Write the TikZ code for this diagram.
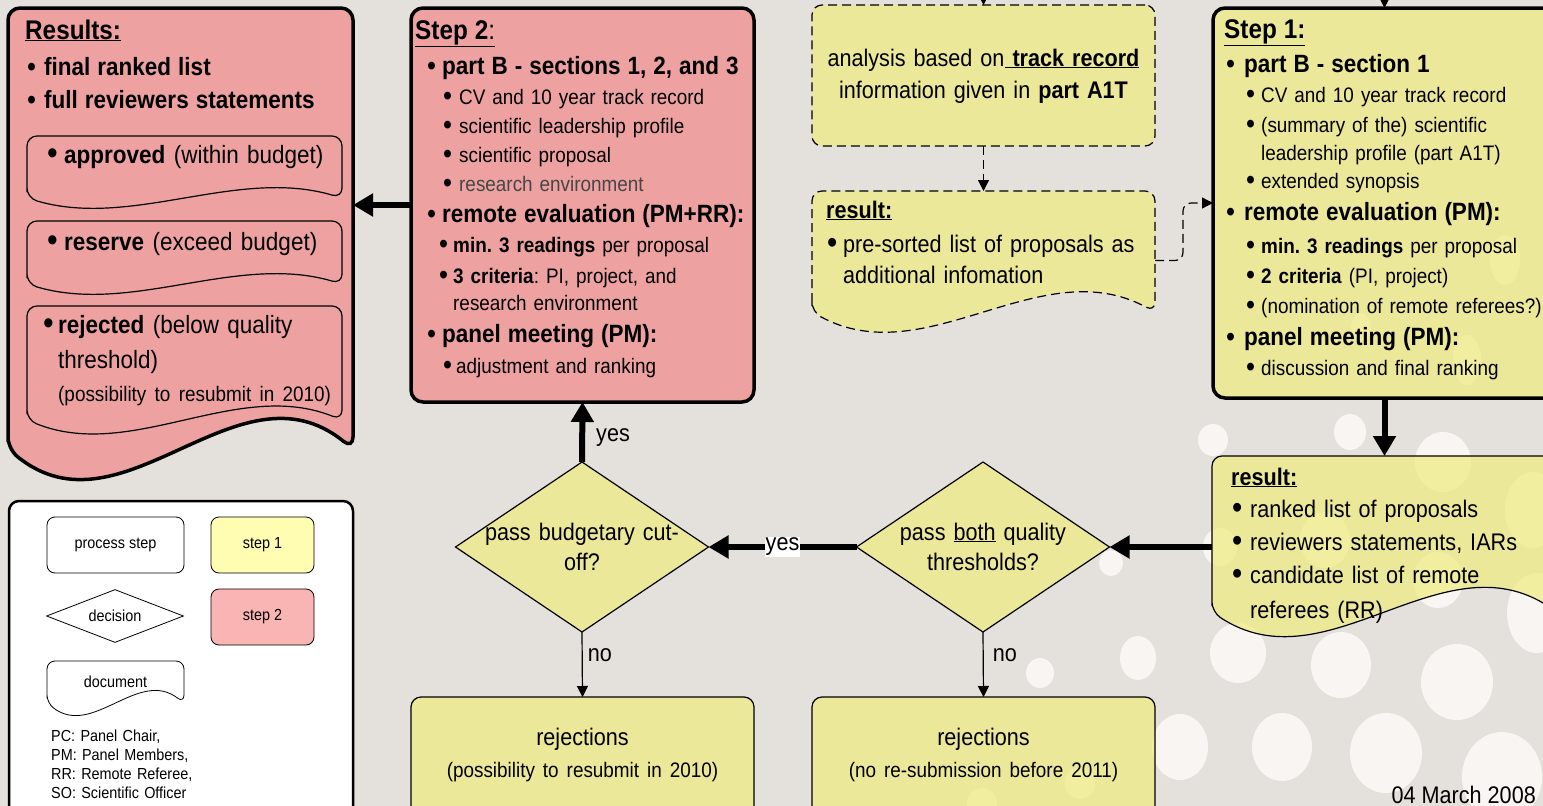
\documentclass[tikz,border=0pt]{standalone}
\usepackage{fontspec}
\usepackage{graphicx}
\setmainfont{Liberation Sans}[FakeStretch=0.9]
\usetikzlibrary{arrows.meta,positioning,calc,shapes.geometric}
\definecolor{bgc}{RGB}{228,224,220}
\definecolor{pinkc}{RGB}{238,161,161}
\definecolor{yelc}{RGB}{240,236,131}
\definecolor{lyelc}{RGB}{255,253,178}
\definecolor{lpinkc}{RGB}{249,180,180}
\definecolor{dotc}{RGB}{248,245,243}
\definecolor{greytxt}{RGB}{70,70,70}
\setlength{\parindent}{0pt}
\frenchspacing
\newcommand{\Ln}[2]{\par\baselineskip=#1pt\relax{#2}\par}
\newcommand{\dotb}[1]{\makebox[#1pt][l]{\raisebox{-0.07em}{\scalebox{1.35}{\textbullet}}}}
\newcommand{\bigb}{\fontsize{25}{30}\selectfont\bfseries}
\newcommand{\hdr}[1]{{\fontsize{27}{30}\selectfont\bfseries\underline{#1}}}
% document outline: straight top and sides, wavy bottom
\newcommand{\docshape}[3]{%
  \path[#3] (#1.south west) -- (#1.north west) -- (#1.north east) -- (#1.south east)
    .. controls ($(#1.south east)!0.333!(#1.south west)+(0,-#2)$)
    and ($(#1.south west)!0.333!(#1.south east)+(0,#2)$) .. cycle;}

\begin{document}
\begin{tikzpicture}[x=1pt,y=-1pt,
  box/.style={anchor=north west,inner sep=0pt,outer sep=0pt},
  stepbox/.style={box,draw,line width=3.5pt,rounded corners=12pt},
  thinbox/.style={box,draw,line width=1.2pt,rounded corners=10pt},
  yfill/.style={fill=yelc,fill opacity=0.75},
  txt/.style={anchor=base west,inner sep=0pt,text width=#1,align=left,font=\fontsize{21}{25}\selectfont},
  txt/.default=320pt,
  ctxt/.style={anchor=base,inner sep=0pt,text width=#1,align=center,font=\fontsize{24}{28}\selectfont},
  ctxt/.default=330pt,
  lbl/.style={font=\fontsize{24}{28}\selectfont,inner sep=1pt},
  dia/.style={diamond,draw,line width=1.2pt,yfill,inner sep=0pt,outer sep=0pt,minimum width=253pt,minimum height=170pt},
  bigarrow/.style={-{Triangle[length=20pt,width=22pt]},line width=6pt},
  thinarrow/.style={-{Triangle[length=11pt,width=11pt]},line width=1.2pt},
  dashline/.style={dash pattern=on 9pt off 5pt},
  lbox/.style={box,draw,line width=0.8pt,rounded corners=8pt,font=\fontsize{16}{19}\selectfont}]
\fill[bgc] (0,0) rectangle (1543,806);
\useasboundingbox (0,0) rectangle (1543,806);
% dots in the corner
\foreach \cx/\cy/\rx/\ry in {1213/440/15/16, 1350/432/16/18, 1443/462/28/30, 1533/510/28/38,
    1325/540/25/28, 1438/580/25/28, 1220/547/17/19, 1537/613/30/40, 1238/653/28/30,
    1341/665/30/33, 1457/682/36/38, 1138/658/18/22, 1040/673/14/15, 1111/563/12/13,
    1180/747/28/33, 1282/747/30/34, 1386/753/36/40, 1502/777/40/45, 1080/783/15/16,
    982/803/15/15, 1505/260/15/25, 1361/327/10/14, 1467/360/14/25}
  \fill[dotc] (\cx,\cy) ellipse [x radius=\rx, y radius=\ry];
%
% results (step 2 output)
\node (results) [box,minimum width=345pt,minimum height=441pt] at (8,8) {};
\docshape{results}{93}{draw,line width=3.5pt,fill=pinkc,rounded corners=12pt}
\node (appr) [box,minimum width=315pt,minimum height=62pt] at (27,136) {};
\docshape{appr}{31}{draw,line width=1.2pt,rounded corners=10pt}
\node (resv) [box,minimum width=315pt,minimum height=63pt] at (27,221) {};
\docshape{resv}{31}{draw,line width=1.2pt,rounded corners=10pt}
\node (rejc) [box,minimum width=315pt,minimum height=114pt] at (27,306) {};
\docshape{rejc}{42}{draw,line width=1.2pt,rounded corners=10pt}
\node (resT) [txt] at ([shift={(17,31)}]results.north west) {\hdr{Results:}
  \Ln{36}{\hspace*{2pt}\dotb{17}\bigb final ranked list}
  \Ln{33}{\hspace*{2pt}\dotb{17}\bigb full reviewers statements}};
\node (apprT) [txt,font=\fontsize{25}{30}\selectfont] at ([shift={(20,27)}]appr.north west) {\dotb{17}\textbf{approved} (within budget)};
\node (resvT) [txt,font=\fontsize{25}{30}\selectfont] at ([shift={(20,29)}]resv.north west) {\dotb{17}\textbf{reserve} (exceed budget)};
\node (rejcT) [txt=300pt,font=\fontsize{25}{30}\selectfont] at ([shift={(16,27)}]rejc.north west) {\dotb{15}\textbf{rejected} (below quality
  \Ln{35}{\hspace*{15pt}threshold)}
  \Ln{33}{\hspace*{15pt}\fontsize{21}{25}\selectfont(possibility to resubmit in 2010)}};
%
% step 2
\node (step2) [stepbox,fill=pinkc,minimum width=343pt,minimum height=394pt] at (411,8) {};
\node (st2T) [txt=340pt] at ([shift={(4,31)}]step2.north west) {{\fontsize{27}{30}\selectfont\underline{\textbf{Step 2}:}}
  \Ln{35}{\hspace*{12pt}\dotb{15}\bigb part B - sections 1, 2, and 3}
  \Ln{30}{\hspace*{28pt}\dotb{16}CV and 10 year track record}
  \Ln{29}{\hspace*{28pt}\dotb{16}scientific leadership profile}
  \Ln{29}{\hspace*{28pt}\dotb{16}scientific proposal}
  \Ln{29}{\hspace*{28pt}\dotb{16}\textcolor{greytxt}{research environment}}
  \Ln{31}{\hspace*{12pt}\dotb{15}\bigb remote evaluation (PM+RR):}
  \Ln{30}{\hspace*{24pt}\dotb{14}\textbf{min. 3 readings} per proposal}
  \Ln{31}{\hspace*{24pt}\dotb{14}\textbf{3 criteria}: PI, project, and}
  \Ln{28}{\hspace*{38pt}research environment}
  \Ln{31}{\hspace*{12pt}\dotb{15}\bigb panel meeting (PM):}
  \Ln{31}{\hspace*{28pt}\dotb{13}adjustment and ranking}};
%
% step 1
\node (step1) [stepbox,yfill,minimum width=343pt,minimum height=390pt] at (1213,8) {};
\node (st1T) [txt=330pt] at ([shift={(11,30)}]step1.north west) {\hdr{Step 1:}
  \Ln{34}{\hspace*{2pt}\dotb{18}\bigb part B - section 1}
  \Ln{30}{\hspace*{22pt}\dotb{15}CV and 10 year track record}
  \Ln{30}{\hspace*{22pt}\dotb{15}(summary of the) scientific}
  \Ln{28}{\hspace*{37pt}leadership profile (part A1T)}
  \Ln{28}{\hspace*{22pt}\dotb{15}extended synopsis}
  \Ln{32}{\hspace*{2pt}\dotb{18}\bigb remote evaluation (PM):}
  \Ln{33}{\hspace*{22pt}\dotb{15}\textbf{min. 3 readings} per proposal}
  \Ln{30}{\hspace*{22pt}\dotb{15}\textbf{2 criteria} (PI, project)}
  \Ln{30}{\hspace*{22pt}\dotb{15}(nomination of remote referees?)}
  \Ln{32}{\hspace*{2pt}\dotb{18}\bigb panel meeting (PM):}
  \Ln{30}{\hspace*{22pt}\dotb{15}discussion and final ranking}};
%
% track record pre-sorting
\node (analysis) [thinbox,dashline,yfill,minimum width=343pt,minimum height=141pt] at (812,5) {};
\node (anT) [ctxt] at ([shift={(0,61)}]analysis.north) {analysis based on\underline{\textbf{ track record}}
  \Ln{32}{information given in \textbf{part A1T}}};
\node (presort) [box,minimum width=343pt,minimum height=121pt] at (812,191) {};
\docshape{presort}{62}{draw,line width=1.2pt,dashline,yfill,rounded corners=10pt}
\node (psT) [txt=330pt,font=\fontsize{24}{28}\selectfont] at ([shift={(14,27)}]presort.north west) {\textbf{\underline{result:}}
  \Ln{34}{\hspace*{1pt}\dotb{16}pre-sorted list of proposals as}
  \Ln{31}{\hspace*{17pt}additional infomation}};
%
% step 1 result
\node (result) [box,minimum width=345pt,minimum height=156pt] at (1212,456) {};
\docshape{result}{76}{draw,line width=1.2pt,yfill,rounded corners=10pt}
\node (resultT) [txt=330pt,font=\fontsize{24}{28}\selectfont] at ([shift={(19,29)}]result.north west) {\textbf{\underline{result:}}
  \Ln{32}{\hspace*{1pt}\dotb{18}ranked list of proposals}
  \Ln{33}{\hspace*{1pt}\dotb{18}reviewers statements, IARs}
  \Ln{33}{\hspace*{1pt}\dotb{18}candidate list of remote}
  \Ln{35}{\hspace*{19pt}referees (RR)}};
%
% decisions
\node (dia1) [dia] at (582,547) {};
\node (dia1T) [ctxt=260pt] at ([shift={(0,-7)}]dia1.center) {pass budgetary cut-\Ln{30}{off?}};
\node (dia2) [dia] at (983,547) {};
\node (dia2T) [ctxt=260pt] at ([shift={(0,-7)}]dia2.center) {pass \underline{both} quality\Ln{30}{thresholds?}};
\node (rej1) [thinbox,yfill,minimum width=343pt,minimum height=130pt] at (411,697) {};
\node (rej1T) [ctxt] at ([shift={(0,48)}]rej1.north) {rejections
  \Ln{32}{\fontsize{21}{25}\selectfont(possibility to resubmit in 2010)}};
\node (rej2) [thinbox,yfill,minimum width=343pt,minimum height=130pt] at (812,697) {};
\node (rej2T) [ctxt] at ([shift={(0,48)}]rej2.north) {rejections
  \Ln{32}{\fontsize{21}{25}\selectfont(no re-submission before 2011)}};
%
% legend
\node (legend) [box,draw,line width=2.5pt,rounded corners=10pt,fill=white,minimum width=344pt,minimum height=330pt] at (9,501) {};
\node (lproc) [lbox,fill=white,minimum width=137pt,minimum height=56pt] at (47,517) {process step};
\node (lstep1) [lbox,fill=lyelc,minimum width=103pt,minimum height=56pt] at (211,517) {step 1};
\node (ldec) [diamond,aspect=2.6,draw,line width=0.8pt,inner sep=0pt,minimum width=137pt,minimum height=53pt,font=\fontsize{16}{19}\selectfont] at (115,616) {decision};
\node (lstep2) [lbox,fill=lpinkc,minimum width=103pt,minimum height=56pt] at (211,589) {step 2};
\node (ldoc) [box,minimum width=137pt,minimum height=42pt,font=\fontsize{16}{19}\selectfont] at (47,661) {document};
\docshape{ldoc}{35}{draw,line width=0.8pt,rounded corners=8pt}
\node (notes) [txt=290pt,font=\fontsize{16}{19}\selectfont] at (51,741) {PC: Panel Chair,
  \Ln{19}{PM: Panel Members,}\Ln{19}{RR: Remote Referee,}\Ln{19}{SO: Scientific Officer}};
\node (date) [anchor=base east,inner sep=0pt,font=\fontsize{24}{28}\selectfont] at (1536,803) {04 March 2008};
%
% connectors
\coordinate (inA) at (983.5,-20);
\coordinate (inB) at (1384.5,-20);
\path[thinarrow,dashline] (inA) edge (analysis.north);
\path[thinarrow] (inB) edge (step1.north);
\path[thinarrow,dashline] (analysis.south) edge (presort.north);
\draw[thinarrow,dashline,rounded corners=8pt] ([yshift=-9pt]presort.east) -- ++(28,0) |- (step1.west);
\draw[bigarrow] (step2.west) -- (step2.west -| results.east);
\path[bigarrow] (step1.south) edge (result.north);
\draw[bigarrow] (result.west |- dia2.east) -- (dia2.east);
\path[bigarrow] (dia2.west) edge node[lbl,fill=white] {yes} (dia1.east);
\path[bigarrow] (dia1.north) edge node[lbl,right=10pt,pos=0.4] {yes} (step2.south);
\path[thinarrow] (dia1.south) edge node[lbl,right=4pt,pos=0.35] {no} (rej1.north);
\path[thinarrow] (dia2.south) edge node[lbl,right=8pt,pos=0.35] {no} (rej2.north);
\end{tikzpicture}
\end{document}
